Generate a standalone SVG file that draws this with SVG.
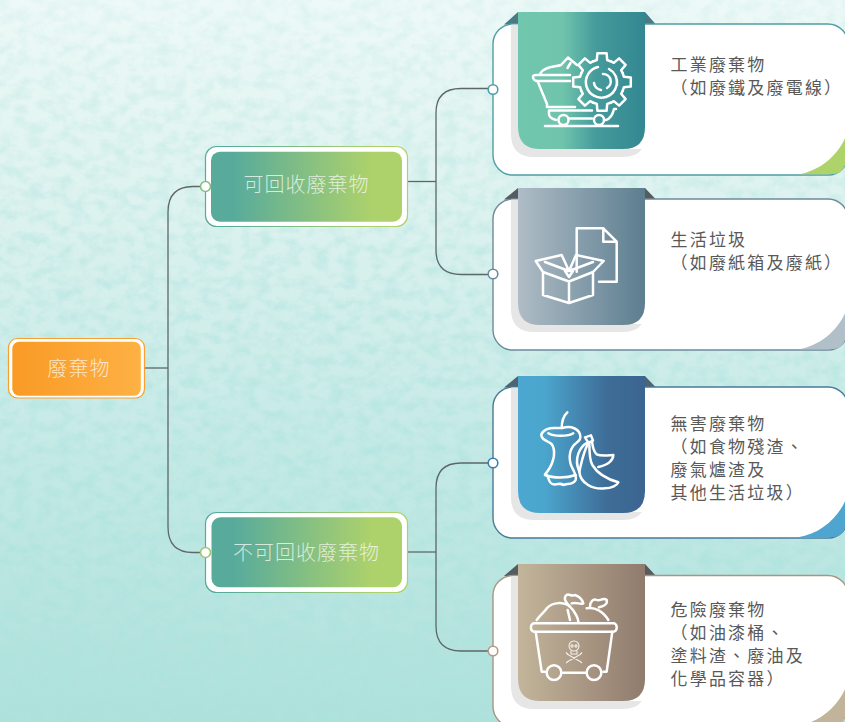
<svg xmlns="http://www.w3.org/2000/svg" xmlns:xlink="http://www.w3.org/1999/xlink" width="845" height="722" viewBox="0 0 845 722">
<style>
.conn{fill:none;stroke:#5f6668;stroke-width:1.3}
.card{fill:#fff;stroke-width:1.4}
.shade{fill:#e6e6e6}
.port{fill:#fff;stroke-width:1.6}
.lbl{font-family:"Noto Sans CJK TC","Noto Sans CJK SC",sans-serif;font-size:17px;letter-spacing:2.2px;fill:#595959}
.nt{font-family:"Noto Sans CJK TC","Noto Sans CJK SC",sans-serif;font-size:20px;font-weight:300;letter-spacing:1px;fill:#fff;fill-opacity:.72;text-anchor:middle}
.ic{fill:none;stroke:#fff;stroke-width:2.5;stroke-linecap:round;stroke-linejoin:round}
.ic3{fill:none;stroke:#fff;stroke-width:7.5;stroke-linecap:round;stroke-linejoin:round}
</style>
<defs>
<linearGradient id="bg" x1="0" y1="0" x2="0" y2="1">
<stop offset="0" stop-color="#edf9f7"/><stop offset=".3" stop-color="#dcf2ef"/><stop offset=".65" stop-color="#c3e9e5"/><stop offset="1" stop-color="#aee1dc"/>
</linearGradient>
<filter id="tex" x="0" y="0" width="100%" height="100%">
<feTurbulence type="fractalNoise" baseFrequency="0.07 0.09" numOctaves="4" seed="11"/>
<feColorMatrix type="matrix" values="0 0 0 0 0.42  0 0 0 0 0.77  0 0 0 0 0.73  2.6 0 0 0 -1.05"/>
</filter>
<linearGradient id="fade" x1="0" y1="0" x2="0" y2="1"><stop offset="0" stop-color="#fff" stop-opacity=".25"/><stop offset=".35" stop-color="#fff" stop-opacity=".6"/><stop offset="1" stop-color="#fff"/></linearGradient>
<mask id="texMask"><rect width="845" height="722" fill="url(#fade)"/></mask>
<linearGradient id="gRoot"><stop offset="0" stop-color="#f99a25"/><stop offset="1" stop-color="#feb144"/></linearGradient>
<linearGradient id="gMid"><stop offset="0" stop-color="#58ab9b"/><stop offset=".12" stop-color="#58ab9b"/><stop offset=".85" stop-color="#aed26b"/><stop offset="1" stop-color="#aed26b"/></linearGradient>
<linearGradient id="r1"><stop offset="0" stop-color="#70c6ae"/><stop offset=".35" stop-color="#70c4ac"/><stop offset=".62" stop-color="#459a9b"/><stop offset="1" stop-color="#338791"/></linearGradient>
<linearGradient id="r2"><stop offset="0" stop-color="#afbcc6"/><stop offset="1" stop-color="#5c7e8f"/></linearGradient>
<linearGradient id="r3"><stop offset="0" stop-color="#4ba8d0"/><stop offset=".2" stop-color="#4ba6ce"/><stop offset=".7" stop-color="#3e6d98"/><stop offset="1" stop-color="#3a6590"/></linearGradient>
<linearGradient id="r4"><stop offset="0" stop-color="#c3b59b"/><stop offset="1" stop-color="#907b6d"/></linearGradient>
<path id="tooth" d="M-8.600-20.800L-5.200-21.900L-4.600-28.800H4.600L5.200-21.900L8.600-20.800"/>
<path id="ribbon" d="M0 0H127V115Q127 137 105 137H22Q0 137 0 115Z"/>
<path id="shadow" d="M-7 12.500V122Q-7 145 16 145H105Q118 145 124 137H22Q0 137 0 115V12.500Z"/>
</defs>

<rect id="background" width="845" height="722" fill="url(#bg)"/>
<g mask="url(#texMask)"><rect id="texture" width="845" height="722" filter="url(#tex)" opacity=".75"/></g>

<g id="connectors">
<path class="conn" d="M145 368H168"/>
<path class="conn" d="M205 186.500H193Q168 186.500 168 212V527Q168 552.500 193 552.500H205"/>
<path class="conn" d="M408 181.500H436"/>
<path class="conn" d="M493 88.500H461Q436 88.500 436 113V250Q436 274.500 461 274.500H493"/>
<path class="conn" d="M408 552H436"/>
<path class="conn" d="M493 463H461Q436 463 436 488V626Q436 651 461 651H493"/>
</g>

<g id="node-root">
<rect x="8.500" y="338.500" width="136" height="59.500" rx="9" fill="#fff" stroke="#f9a030" stroke-width="1.200"/>
<rect x="12.300" y="341.700" width="128.500" height="54" rx="7" fill="url(#gRoot)"/>
<text class="nt" x="79" y="376">廢棄物</text>
</g>

<g id="node-recyclable">
<rect x="205.500" y="146.500" width="202" height="80" rx="11" fill="#fff" stroke="url(#gMid)" stroke-width="1.200"/>
<rect x="211" y="151.700" width="191" height="70" rx="9" fill="url(#gMid)"/>
<text class="nt" x="306.500" y="192">可回收廢棄物</text>
<circle class="port" cx="205.500" cy="186.500" r="5" stroke="#86bd86"/>
</g>

<g id="node-nonrecyclable">
<rect x="205.500" y="512.500" width="202" height="80" rx="11" fill="#fff" stroke="url(#gMid)" stroke-width="1.200"/>
<rect x="211.500" y="517.300" width="190.500" height="70" rx="9" fill="url(#gMid)"/>
<text class="nt" x="306.500" y="559.500">不可回收廢棄物</text>
<circle class="port" cx="205.500" cy="552.500" r="5" stroke="#9cc676"/>
</g>

<g id="card-industrial">
<path d="M518 12L504 24.500H518ZM645 12L656 24.500H645Z" fill="#4a7b85"/>
<rect class="card" x="493" y="24" width="355" height="151" rx="20" stroke="#4e9ea6"/>
<path d="M798 174.300C820 171 838 155 845.500 137V160Q845.500 174.300 830 174.300Z" fill="#aed36a"/>
<use xlink:href="#shadow" href="#shadow" x="518" y="12" class="shade"/>
<use xlink:href="#ribbon" href="#ribbon" x="518" y="12" fill="url(#r1)"/>
<circle class="port" cx="493" cy="89.500" r="4.800" stroke="#4e9ea6"/>
<g class="ic">
<g transform="translate(602 82)"><use xlink:href="#tooth" href="#tooth"/><use xlink:href="#tooth" href="#tooth" transform="rotate(45)"/><use xlink:href="#tooth" href="#tooth" transform="rotate(90)"/><use xlink:href="#tooth" href="#tooth" transform="rotate(135)"/><use xlink:href="#tooth" href="#tooth" transform="rotate(180)"/><use xlink:href="#tooth" href="#tooth" transform="rotate(225)"/><use xlink:href="#tooth" href="#tooth" transform="rotate(270)"/><use xlink:href="#tooth" href="#tooth" transform="rotate(315)"/>
<path d="M-4-15A15.500 15.500 0 1 0 14-5M7-13A15.500 15.500 0 0 1 15 3M1-8A7.500 7.500 0 0 1 5 6M-8 1A8 8 0 0 0-1 8"/></g>
<path d="M570 75H536Q532.500 75 533 77.500Q534 81 537.500 81H570M537.500 81L547 104V107H575M549 110.500H592M540.500 73C545 66 555 67 561 65L568 57.500L577 65M570.500 63L567.500 68M549 110.500V114Q549 118 556 120M570 118.500H592M606 120Q612 118 614 109H616M545 126H618"/>
<circle cx="563.500" cy="120" r="5"/><circle cx="599" cy="120" r="5"/>
</g>
<text class="lbl" x="670.500" y="70.500">工業廢棄物</text>
<text class="lbl" x="670.500" y="93.500">（如廢鐵及廢電線）</text>
</g>

<g id="card-household">
<path d="M518 188L504 199.500H518ZM645 188L656 199.500H645Z" fill="#555b5e"/>
<rect class="card" x="493" y="199" width="355" height="151" rx="20" stroke="#6d8b9b"/>
<path d="M798 349.300C820 346 838 330 845.500 312V335Q845.500 349.300 830 349.300Z" fill="#b1bfc9"/>
<use xlink:href="#shadow" href="#shadow" x="518" y="187" class="shade"/>
<use xlink:href="#ribbon" href="#ribbon" x="518" y="188" fill="url(#r2)"/>
<circle class="port" cx="493" cy="274" r="4.800" stroke="#6d8b9b"/>
<g class="ic">
<path d="M576.700 271.700V228.300H603.300L616.700 241.700V281.700H599M603.300 228.300V241.700H616.700"/>
<path d="M543 272V295L569 303L593 295V272M569 281.500V303M543 272L569 281.500L593 272M535.700 261L561.700 255L569 271L576 255L603.700 261L593 272M535.700 261L543 272M545 262L569 271L593 262M565 271H573L569 277Z"/>
</g>
<text class="lbl" x="670.500" y="245.500">生活垃圾</text>
<text class="lbl" x="670.500" y="268.500">（如廢紙箱及廢紙）</text>
</g>

<g id="card-harmless">
<path d="M518 376L504 387.500H518ZM645 376L656 387.500H645Z" fill="#4f6473"/>
<rect class="card" x="493" y="387" width="355" height="151" rx="20" stroke="#4a7a95"/>
<path d="M798 537.300C820 534 838 518 845.500 500V523Q845.500 537.300 830 537.300Z" fill="#4ea6d0"/>
<use xlink:href="#shadow" href="#shadow" x="518" y="375" class="shade"/>
<use xlink:href="#ribbon" href="#ribbon" x="518" y="376" fill="url(#r3)"/>
<circle class="port" cx="493" cy="463" r="4.800" stroke="#3f7dab"/>
<g class="ic3" transform="translate(530 405) scale(.3333)">
<path d="M112 22C98 35 95 52 95 70"/>
<path d="M60 70C45 72 30 85 35 95C40 110 62 108 68 122C78 145 70 180 45 208C60 208 50 235 70 238C85 240 90 232 100 240C110 235 130 240 137 225C140 215 135 205 130 195C115 170 115 140 132 120C145 108 155 105 150 88C145 72 125 62 100 68C85 72 75 66 60 70Z"/>
<path d="M55 85C70 95 115 95 130 85M45 210C70 220 110 220 137 210"/>
<path d="M165 97L183 91L189 107L175 113ZM172 113C150 125 130 160 148 200C155 170 160 140 176 113"/>
<path d="M186 110C188 125 190 140 200 148C215 155 240 150 250 150C250 165 235 180 205 186"/>
<path d="M148 200C150 235 190 255 225 250C245 250 262 240 265 232C240 225 205 210 187 180C178 165 178 140 178 113"/>
</g>
<text class="lbl" x="670.500" y="429.500">無害廢棄物</text>
<text class="lbl" x="670.500" y="452.500">（如食物殘渣、</text>
<text class="lbl" x="670.500" y="475.500">廢氣爐渣及</text>
<text class="lbl" x="670.500" y="498.500">其他生活垃圾）</text>
</g>

<g id="card-hazardous">
<path d="M518 564L504 576H518ZM645 564L656 576H645Z" fill="#555b5e"/>
<rect class="card" x="493" y="575.500" width="355" height="151" rx="20" stroke="#a89582"/>
<path d="M798 725.800C820 722 838 706 845.500 688V712Q845.500 725.800 830 725.800Z" fill="#c2b49a"/>
<use xlink:href="#shadow" href="#shadow" x="518" y="564" class="shade"/>
<use xlink:href="#ribbon" href="#ribbon" x="518" y="564" fill="url(#r4)"/>
<circle class="port" cx="493" cy="651" r="4.800" stroke="#b09c8a"/>
<g class="ic3" transform="translate(525 590) scale(.3333)">
<rect x="18" y="100" width="257" height="25" rx="10"/>
<path d="M32 125L50 245H60M262 125L245 245H235M110 248H185"/>
<circle cx="87" cy="248" r="22"/><circle cx="207" cy="248" r="22"/>
<path d="M35 90C50 70 60 65 65 55C85 35 115 35 135 50C150 65 160 85 160 95M128 60L135 90"/>
<path d="M135 50C125 40 112 25 125 15C130 10 140 20 150 15C165 20 172 30 175 40C165 45 155 35 140 40"/>
<path d="M185 55C210 50 235 65 250 90M195 50C195 35 205 25 215 30C225 35 235 20 245 30C250 45 230 50 222 52"/>
</g>
<g fill="none" stroke="#fff" stroke-width="1.100" opacity=".85">
<circle cx="574" cy="646" r="5"/><path d="M571 651V654H577V651"/>
<circle cx="572" cy="646" r="1.100"/><circle cx="576" cy="646" r="1.100"/>
<path d="M567 654L581 662M581 654L567 662M566 652.500L568.500 655M582 652.500L579.500 655M566 663L568.500 661M582 663L579.500 661"/>
</g>
<text class="lbl" x="670.500" y="615.500">危險廢棄物</text>
<text class="lbl" x="670.500" y="638.500">（如油漆桶、</text>
<text class="lbl" x="670.500" y="661.500">塗料渣、廢油及</text>
<text class="lbl" x="670.500" y="684.500">化學品容器）</text>
</g>
</svg>
